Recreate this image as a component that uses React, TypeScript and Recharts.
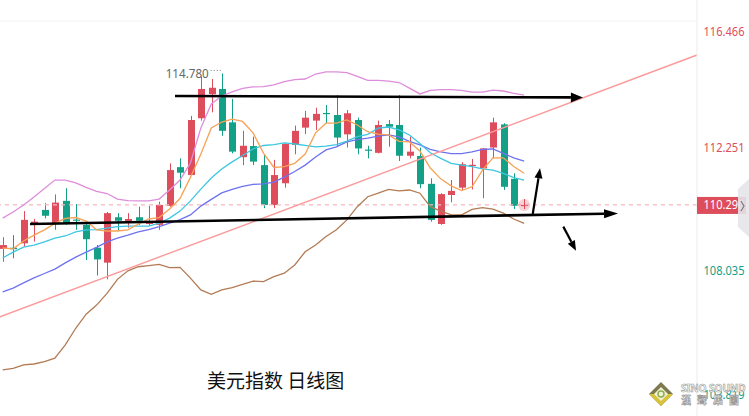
import {
  ComposedChart,
  Bar,
  Line,
  XAxis,
  YAxis,
  ReferenceLine,
  ReferenceDot,
} from 'recharts'

// daily candles, oldest first
const opens = [108.79, 108.83, 108.98, 109.66, 110.12, 109.66, 110.43, 109.79, 109.61, 108.83, 108.32, 109.87, 109.72, 109.87, 109.64, 109.61, 110.26, 111.58, 111.31, 113.25, 114.07, 114.25, 113.11, 111.92, 112.3, 111.65, 110.29, 111.03, 112.34, 112.93, 113.17, 113.43, 113.36, 112.7, 113.19, 112.18, 112.07, 113.05, 113.02, 111.97, 111.96, 111.01, 109.64, 110.63, 110.88, 111.64, 111.54, 112.25, 113.04, 111.18, 110.26]
const highs = [109.19, 109.26, 110.08, 109.81, 110.35, 110.65, 110.86, 110.32, 109.66, 108.92, 110.05, 110.01, 110.01, 110.23, 110.26, 110.4, 111.71, 111.88, 113.33, 114.67, 114.59, 114.78, 113.91, 112.82, 112.62, 112.0, 111.83, 112.4, 113.0, 113.5, 113.61, 113.7, 114.04, 113.53, 113.27, 112.31, 113.17, 113.19, 114.04, 112.62, 112.25, 111.2, 110.69, 111.14, 111.75, 111.86, 112.23, 113.27, 113.08, 111.37, 110.49]
const lows = [108.35, 108.47, 108.87, 109.04, 109.83, 109.44, 109.61, 109.44, 108.41, 107.88, 107.75, 109.4, 109.51, 109.61, 109.58, 109.44, 110.23, 110.86, 111.29, 113.17, 113.45, 112.65, 112.05, 111.65, 111.65, 110.18, 110.18, 110.88, 112.02, 112.71, 112.85, 113.08, 112.28, 112.25, 112.02, 111.88, 112.05, 112.28, 111.79, 111.88, 110.86, 109.72, 109.61, 110.38, 110.8, 110.82, 110.52, 111.88, 110.8, 110.15, 110.15]
const closes = [108.92, 108.78, 109.78, 109.72, 109.92, 110.37, 109.66, 109.76, 109.12, 108.43, 110.01, 109.75, 109.81, 109.75, 109.72, 110.29, 111.48, 111.39, 113.19, 114.25, 114.29, 112.82, 112.11, 112.31, 111.77, 110.29, 111.31, 112.37, 112.82, 113.27, 113.4, 113.4, 112.59, 113.42, 112.22, 112.16, 113.02, 112.96, 111.97, 112.11, 111.0, 109.78, 110.66, 110.77, 111.68, 111.66, 112.22, 113.11, 110.91, 110.26, 110.29]

// indicator lines
const bollUpper = [109.84, 110.05, 110.29, 110.56, 110.85, 111.14, 111.14, 111.04, 110.89, 110.75, 110.68, 110.49, 110.44, 110.43, 110.43, 110.49, 110.8, 111.14, 111.72, 112.92, 113.74, 114.01, 114.15, 114.27, 114.32, 114.33, 114.39, 114.5, 114.57, 114.59, 114.76, 114.83, 114.83, 114.81, 114.68, 114.54, 114.54, 114.52, 114.47, 114.28, 114.08, 114.2, 114.23, 114.23, 114.2, 114.14, 114.14, 114.21, 114.18, 114.1, 114.04]
const ma5 = [108.82, 108.79, 109.06, 109.26, 109.44, 109.66, 109.83, 109.86, 109.74, 109.44, 109.4, 109.4, 109.44, 109.64, 109.81, 109.86, 110.15, 110.51, 111.23, 112.03, 112.92, 113.12, 113.22, 113.14, 112.75, 112.06, 111.57, 111.6, 111.71, 112.03, 112.75, 113.08, 113.08, 113.19, 113.02, 112.79, 112.71, 112.68, 112.46, 112.44, 112.13, 111.55, 111.18, 110.94, 110.78, 110.91, 111.48, 111.9, 111.9, 111.6, 111.37]
const ma10 = [108.48, 108.68, 108.85, 108.92, 109.03, 109.16, 109.23, 109.37, 109.44, 109.45, 109.5, 109.55, 109.57, 109.57, 109.57, 109.67, 109.84, 110.08, 110.43, 110.83, 111.21, 111.52, 111.76, 111.98, 112.2, 112.32, 112.35, 112.41, 112.37, 112.32, 112.27, 112.3, 112.35, 112.47, 112.62, 112.7, 112.91, 112.95, 112.85, 112.68, 112.39, 112.07, 111.88, 111.71, 111.65, 111.6, 111.52, 111.48, 111.37, 111.22, 111.14]
const ma20 = [107.32, 107.45, 107.63, 107.8, 107.95, 108.1, 108.31, 108.51, 108.68, 108.84, 109.03, 109.16, 109.26, 109.37, 109.45, 109.55, 109.67, 109.79, 109.95, 110.25, 110.48, 110.7, 110.82, 110.92, 110.99, 111.01, 111.07, 111.24, 111.43, 111.65, 111.93, 112.17, 112.27, 112.44, 112.52, 112.57, 112.64, 112.68, 112.61, 112.46, 112.34, 112.19, 112.1, 112.04, 112.04, 112.1, 112.19, 112.2, 112.05, 111.9, 111.79]
const bollLower = [104.66, 104.71, 104.83, 104.86, 104.94, 105.06, 105.51, 106.08, 106.56, 106.87, 107.27, 107.75, 108.04, 108.18, 108.22, 108.26, 108.15, 108.16, 107.79, 107.39, 107.24, 107.39, 107.47, 107.58, 107.69, 107.67, 107.84, 107.96, 108.24, 108.69, 108.92, 109.21, 109.44, 109.78, 110.23, 110.57, 110.69, 110.82, 110.77, 110.8, 110.69, 110.23, 110.08, 109.95, 109.95, 110.14, 110.2, 110.15, 110.01, 109.81, 109.66]

const priceTicks = [103.819, 108.035, 110.29, 112.251, 116.466]
const lastPrice = 110.29
const highMark = { i: 21, price: 114.78, label: '114.780' }

// hand-drawn annotations, in (bar index, price)
const topArrow = [{ x: 16.52, y: 114.01 }, { x: 55.63, y: 113.96 }]
const bottomArrow = [{ x: 2.62, y: 109.64 }, { x: 59.0, y: 110.0 }]
const trendLine = [{ x: -0.26, y: 106.47 }, { x: 66.57, y: 115.41 }]
const upArrow = [{ x: 50.82, y: 109.98 }, { x: 51.52, y: 111.54 }]
const downArrow = [{ x: 53.75, y: 109.55 }, { x: 54.97, y: 108.73 }]

const rows = opens.map((open, i) => ({
  i,
  open,
  high: highs[i],
  low: lows[i],
  close: closes[i],
  bollUpper: bollUpper[i],
  ma5: ma5[i],
  ma10: ma10[i],
  ma20: ma20[i],
  bollLower: bollLower[i],
}))

const RED = '#de4d5b'
const GREEN = '#14a086'

function Candle(props: any) {
  const { x, y, width, height, payload } = props
  if (x == null || y == null) return null
  const { open, close, high, low } = payload
  const color = close >= open ? RED : GREEN
  const top = Math.min(y, y + height)
  const h = Math.abs(height)
  const ratio = h / (high - low)
  const bodyTop = top + (high - Math.max(open, close)) * ratio
  const bodyBottom = top + (high - Math.min(open, close)) * ratio
  const cx = Math.round(x + width / 2) + 0.5
  return (
    <g>
      <line x1={cx} x2={cx} y1={top} y2={top + h} stroke={color} strokeWidth={1} />
      <rect
        x={cx - 3.5}
        y={bodyTop}
        width={7}
        height={Math.max(1.2, bodyBottom - bodyTop)}
        fill={color}
      />
    </g>
  )
}

function arrow(head: number, half: number, width: number) {
  return (props: any) => {
    const { x1, y1, x2, y2 } = props
    const a = Math.atan2(y2 - y1, x2 - x1)
    const bx = x2 - head * Math.cos(a)
    const by = y2 - head * Math.sin(a)
    const px = -Math.sin(a) * half
    const py = Math.cos(a) * half
    return (
      <g>
        <line x1={x1} y1={y1} x2={bx} y2={by} stroke="#000" strokeWidth={width} />
        <polygon
          points={`${x2},${y2} ${bx + px},${by + py} ${bx - px},${by - py}`}
          fill="#000"
        />
      </g>
    )
  }
}

function PriceTick(props: any) {
  const { x, y, payload } = props
  const v = payload.value
  const label = v.toFixed(3)
  const tx = x - 1.5
  if (v === lastPrice) {
    return (
      <g>
        <rect x={x - 8} y={y - 8} width={49} height={17} fill={RED} />
        <text x={tx} y={y + 4.5} fill="#fff" fontSize={12.5} textLength={41} lengthAdjust="spacingAndGlyphs">
          {label}
        </text>
        <polygon
          points={`${x + 33},${y - 16} ${x + 44},${y - 26} ${x + 44},${y + 32} ${x + 33},${y + 22}`}
          fill="#e4e4ea"
          fillOpacity={0.9}
        />
        <polyline
          points={`${x + 36},${y - 4} ${x + 39},${y + 1} ${x + 36},${y + 6}`}
          fill="none"
          stroke="#777"
          strokeWidth={1.2}
        />
      </g>
    )
  }
  const ty = Math.max(y, 31)
  return (
    <text
      x={tx}
      y={ty + 4.5}
      fill={v > lastPrice ? RED : GREEN}
      fontSize={12.5}
      textLength={41}
      lengthAdjust="spacingAndGlyphs"
    >
      {label}
    </text>
  )
}

function HighLabel(props: any) {
  const { viewBox } = props
  const cx = viewBox.x
  const cy = viewBox.y
  return (
    <g>
      <line x1={cx - 11} x2={cx} y1={cy - 3} y2={cy - 3} stroke="#777" strokeDasharray="1 2" />
      <text
        x={cx - 56}
        y={cy + 5}
        fill="#666"
        fontSize={12.5}
        textLength={43}
        lengthAdjust="spacingAndGlyphs"
      >
        {highMark.label}
      </text>
    </g>
  )
}

export default function App() {
  return (
    <div
      style={{
        position: 'absolute',
        left: 0,
        top: 0,
        width: 749,
        height: 416,
        background: '#fff',
        overflow: 'hidden',
        fontFamily: "'Noto Sans', sans-serif",
      }}
    >
      <ComposedChart
        width={749}
        height={416}
        data={rows}
        margin={{ top: 0, right: 0, bottom: 0, left: 0 }}
      >
        <XAxis dataKey="i" type="number" domain={[-0.26, 66.57]} allowDataOverflow hide />
        <YAxis
          orientation="right"
          type="number"
          domain={[103.084, 117.287]}
          allowDataOverflow
          ticks={priceTicks}
          interval={0}
          tick={<PriceTick />}
          tickLine={false}
          axisLine={{ stroke: '#ececec' }}
          width={52}
        />
        <ReferenceLine y={116.57} stroke="#f2f2f2" ifOverflow="visible" />
        <ReferenceLine
          y={lastPrice}
          stroke="#f5b8c0"
          strokeWidth={1.2}
          strokeDasharray="4 4"
          ifOverflow="visible"
        />
        <Bar
          dataKey={(d: any) => [d.low, d.high]}
          barSize={7}
          shape={<Candle />}
          activeBar={false}
          isAnimationActive={false}
        />
        <Line dataKey="bollUpper" stroke="#dd8ddb" strokeWidth={1.3} dot={false} activeDot={false} isAnimationActive={false} />
        <Line dataKey="bollLower" stroke="#b27b54" strokeWidth={1.3} dot={false} activeDot={false} isAnimationActive={false} />
        <Line dataKey="ma20" stroke="#6f72f0" strokeWidth={1.3} dot={false} activeDot={false} isAnimationActive={false} />
        <Line dataKey="ma10" stroke="#3ec6e0" strokeWidth={1.3} dot={false} activeDot={false} isAnimationActive={false} />
        <Line dataKey="ma5" stroke="#f7a255" strokeWidth={1.3} dot={false} activeDot={false} isAnimationActive={false} />
        <ReferenceLine segment={trendLine} stroke="#fb9a9a" strokeWidth={1.4} ifOverflow="visible" />
        <ReferenceLine segment={topArrow} shape={arrow(12, 5, 2.6)} ifOverflow="visible" />
        <ReferenceLine segment={bottomArrow} shape={arrow(14, 4.5, 2.6)} ifOverflow="visible" />
        <ReferenceLine segment={upArrow} shape={arrow(10, 4, 2.2)} ifOverflow="visible" />
        <ReferenceLine segment={downArrow} shape={arrow(10, 4, 2.2)} ifOverflow="visible" />
        <ReferenceDot
          x={opens.length - 1}
          y={lastPrice}
          r={6}
          fill={RED}
          fillOpacity={0.25}
          stroke="none"
          ifOverflow="visible"
        />
        <ReferenceDot
          x={highMark.i}
          y={highMark.price}
          r={0}
          stroke="none"
          ifOverflow="visible"
          label={<HighLabel />}
        />
      </ComposedChart>
      <div
        style={{
          position: 'absolute',
          left: 207,
          top: 369,
          fontSize: 19,
          lineHeight: '22px',
          color: '#111',
          fontFamily: "'Noto Sans CJK SC', sans-serif",
          whiteSpace: 'nowrap',
        }}
      >
        美元指数 日线图
      </div>
      <svg
        width={100}
        height={34}
        style={{ position: 'absolute', left: 648, top: 378 }}
      >
        <polygon points="13,4 25,16 13,28 1,16" fill="#7d7a4e" />
        <polygon points="13,16 25,16 13,28 1,16" fill="#d7c43c" />
        <polygon points="13,9 20,16 13,23 6,16" fill="#f3f1da" />
        <circle cx={13} cy={16} r={3} fill="none" stroke="#8cb14a" strokeWidth={1.5} />
        <text
          x={33}
          y={14}
          fontSize={10}
          fontWeight={700}
          fill="#fff"
          stroke="#999"
          strokeWidth={0.6}
          fontFamily="'Noto Sans', sans-serif"
        >
          SINO SOUND
        </text>
        <text
          x={33}
          y={26}
          fontSize={10}
          fontWeight={700}
          fill="#fff"
          stroke="#999"
          strokeWidth={0.6}
          letterSpacing={6}
          fontFamily="'Noto Sans CJK TC', sans-serif"
        >
          漢聲集團
        </text>
      </svg>
    </div>
  )
}
